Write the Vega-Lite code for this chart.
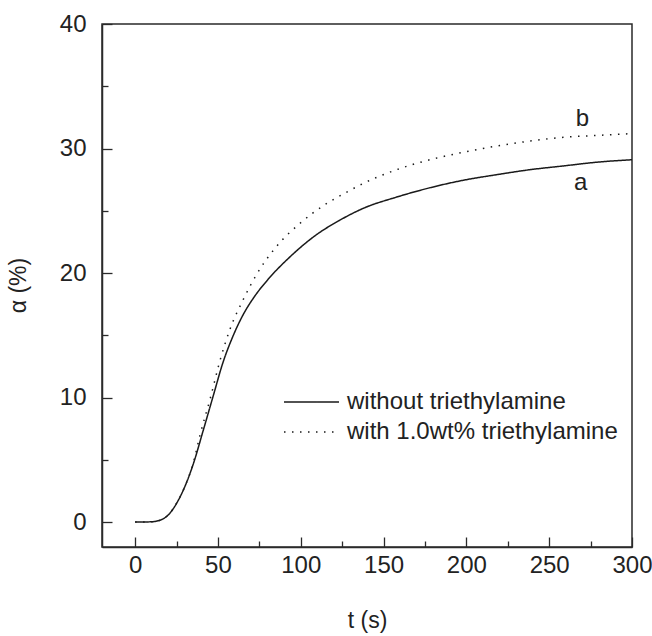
{
  "$schema": "https://vega.github.io/schema/vega-lite/v6.json",
  "width": 530,
  "height": 523,
  "autosize": "none",
  "padding": {"left": 102, "top": 24, "right": 20, "bottom": 89},
  "background": "white",
  "config": {
    "font": "Liberation Sans",
    "view": {"stroke": "#2a2a2a", "strokeWidth": 1.5},
    "axis": {
      "grid": false,
      "domainColor": "#2a2a2a",
      "domainWidth": 1.5,
      "tickColor": "#2a2a2a",
      "tickWidth": 1.3,
      "labelColor": "#222",
      "labelFont": "Liberation Sans",
      "labelFontSize": 24,
      "titleFont": "Liberation Sans",
      "titleFontSize": 23,
      "titleFontWeight": "normal",
      "titleColor": "#222",
      "labelFlush": false,
      "labelOverlap": false
    }
  },
  "datasets": {
    "curves": [
      {"t": 0, "alpha": 0, "series": "without triethylamine"},
      {"t": 9, "alpha": 0.02, "series": "without triethylamine"},
      {"t": 15, "alpha": 0.15, "series": "without triethylamine"},
      {"t": 21, "alpha": 0.72, "series": "without triethylamine"},
      {"t": 25, "alpha": 1.5, "series": "without triethylamine"},
      {"t": 29.2, "alpha": 2.6, "series": "without triethylamine"},
      {"t": 35.2, "alpha": 4.7, "series": "without triethylamine"},
      {"t": 41.2, "alpha": 7.4, "series": "without triethylamine"},
      {"t": 47.3, "alpha": 10.2, "series": "without triethylamine"},
      {"t": 53, "alpha": 12.8, "series": "without triethylamine"},
      {"t": 59.3, "alpha": 15.0, "series": "without triethylamine"},
      {"t": 65, "alpha": 16.6, "series": "without triethylamine"},
      {"t": 72, "alpha": 18.1, "series": "without triethylamine"},
      {"t": 80, "alpha": 19.45, "series": "without triethylamine"},
      {"t": 93.5, "alpha": 21.3, "series": "without triethylamine"},
      {"t": 109.7, "alpha": 23.1, "series": "without triethylamine"},
      {"t": 123, "alpha": 24.2, "series": "without triethylamine"},
      {"t": 137.8, "alpha": 25.2, "series": "without triethylamine"},
      {"t": 157.9, "alpha": 26.1, "series": "without triethylamine"},
      {"t": 178, "alpha": 26.85, "series": "without triethylamine"},
      {"t": 198.1, "alpha": 27.45, "series": "without triethylamine"},
      {"t": 218.3, "alpha": 27.9, "series": "without triethylamine"},
      {"t": 238.4, "alpha": 28.3, "series": "without triethylamine"},
      {"t": 258.5, "alpha": 28.6, "series": "without triethylamine"},
      {"t": 278.6, "alpha": 28.9, "series": "without triethylamine"},
      {"t": 300, "alpha": 29.1, "series": "without triethylamine"},
      {"t": 0, "alpha": 0, "series": "with 1.0wt% triethylamine"},
      {"t": 9, "alpha": 0.02, "series": "with 1.0wt% triethylamine"},
      {"t": 15, "alpha": 0.15, "series": "with 1.0wt% triethylamine"},
      {"t": 21, "alpha": 0.72, "series": "with 1.0wt% triethylamine"},
      {"t": 25, "alpha": 1.5, "series": "with 1.0wt% triethylamine"},
      {"t": 29.2, "alpha": 2.6, "series": "with 1.0wt% triethylamine"},
      {"t": 35.2, "alpha": 4.8, "series": "with 1.0wt% triethylamine"},
      {"t": 39.2, "alpha": 7.0, "series": "with 1.0wt% triethylamine"},
      {"t": 45.3, "alpha": 9.9, "series": "with 1.0wt% triethylamine"},
      {"t": 51.3, "alpha": 13.0, "series": "with 1.0wt% triethylamine"},
      {"t": 57.3, "alpha": 15.5, "series": "with 1.0wt% triethylamine"},
      {"t": 65.4, "alpha": 17.9, "series": "with 1.0wt% triethylamine"},
      {"t": 73.4, "alpha": 19.9, "series": "with 1.0wt% triethylamine"},
      {"t": 84.5, "alpha": 22.0, "series": "with 1.0wt% triethylamine"},
      {"t": 99.6, "alpha": 24.0, "series": "with 1.0wt% triethylamine"},
      {"t": 114.7, "alpha": 25.5, "series": "with 1.0wt% triethylamine"},
      {"t": 127.8, "alpha": 26.5, "series": "with 1.0wt% triethylamine"},
      {"t": 137.8, "alpha": 27.2, "series": "with 1.0wt% triethylamine"},
      {"t": 157.9, "alpha": 28.3, "series": "with 1.0wt% triethylamine"},
      {"t": 178, "alpha": 29.1, "series": "with 1.0wt% triethylamine"},
      {"t": 198.1, "alpha": 29.7, "series": "with 1.0wt% triethylamine"},
      {"t": 218.3, "alpha": 30.2, "series": "with 1.0wt% triethylamine"},
      {"t": 238.4, "alpha": 30.6, "series": "with 1.0wt% triethylamine"},
      {"t": 258.5, "alpha": 30.9, "series": "with 1.0wt% triethylamine"},
      {"t": 278.6, "alpha": 31.05, "series": "with 1.0wt% triethylamine"},
      {"t": 300, "alpha": 31.2, "series": "with 1.0wt% triethylamine"}
    ],
    "labels": [
      {"t": 269, "alpha": 27.2, "text": "a"},
      {"t": 270, "alpha": 32.4, "text": "b"}
    ]
  },
  "layer": [
    {
      "data": {"name": "curves"},
      "mark": {"type": "line", "interpolate": "monotone", "color": "#1a1a1a", "strokeWidth": 1.5},
      "encoding": {
        "x": {
          "field": "t", "type": "quantitative",
          "scale": {"domain": [-20, 300], "nice": false, "zero": false},
          "axis": {
            "values": [0, 25, 50, 75, 100, 125, 150, 175, 200, 225, 250, 275, 300],
            "labelExpr": "datum.value % 50 === 0 ? datum.label : ''",
            "tickSize": {"condition": {"test": "datum.value % 50 === 0", "value": -10}, "value": -6},
            "labelPadding": 16,
            "title": "t (s)",
            "titleY": 73,
            "titleBaseline": "middle"
          }
        },
        "y": {
          "field": "alpha", "type": "quantitative",
          "scale": {"domain": [-2, 40], "nice": false, "zero": false},
          "axis": {
            "values": [0, 5, 10, 15, 20, 25, 30, 35, 40],
            "labelExpr": "datum.value % 10 === 0 ? datum.label : ''",
            "tickSize": {"condition": {"test": "datum.value % 10 === 0", "value": -10}, "value": -6},
            "labelPadding": 26,
            "title": "α (%)",
            "titleX": -84,
            "titleY": 261,
            "titleBaseline": "middle",
            "titleAlign": "center",
            "titleAngle": 270
          }
        },
        "strokeDash": {
          "field": "series", "type": "nominal",
          "scale": {
            "domain": ["without triethylamine", "with 1.0wt% triethylamine"],
            "range": [[1, 0], [1.5, 6.5]]
          },
          "legend": {
            "title": null,
            "orient": "none",
            "legendX": 181,
            "legendY": 366,
            "symbolType": "stroke",
            "symbolSize": 3025,
            "symbolStrokeColor": "#1a1a1a",
            "symbolStrokeWidth": 1.5,
            "clipHeight": 24,
            "labelFontSize": 24,
            "labelFont": "Liberation Sans",
            "labelColor": "#222",
            "labelOffset": 7,
            "labelLimit": 0,
            "rowPadding": 6
          }
        }
      }
    },
    {
      "data": {"name": "labels"},
      "mark": {"type": "text", "fontSize": 24, "font": "Liberation Sans", "color": "#222"},
      "encoding": {
        "x": {"field": "t", "type": "quantitative"},
        "y": {"field": "alpha", "type": "quantitative"},
        "text": {"field": "text"}
      }
    }
  ]
}
